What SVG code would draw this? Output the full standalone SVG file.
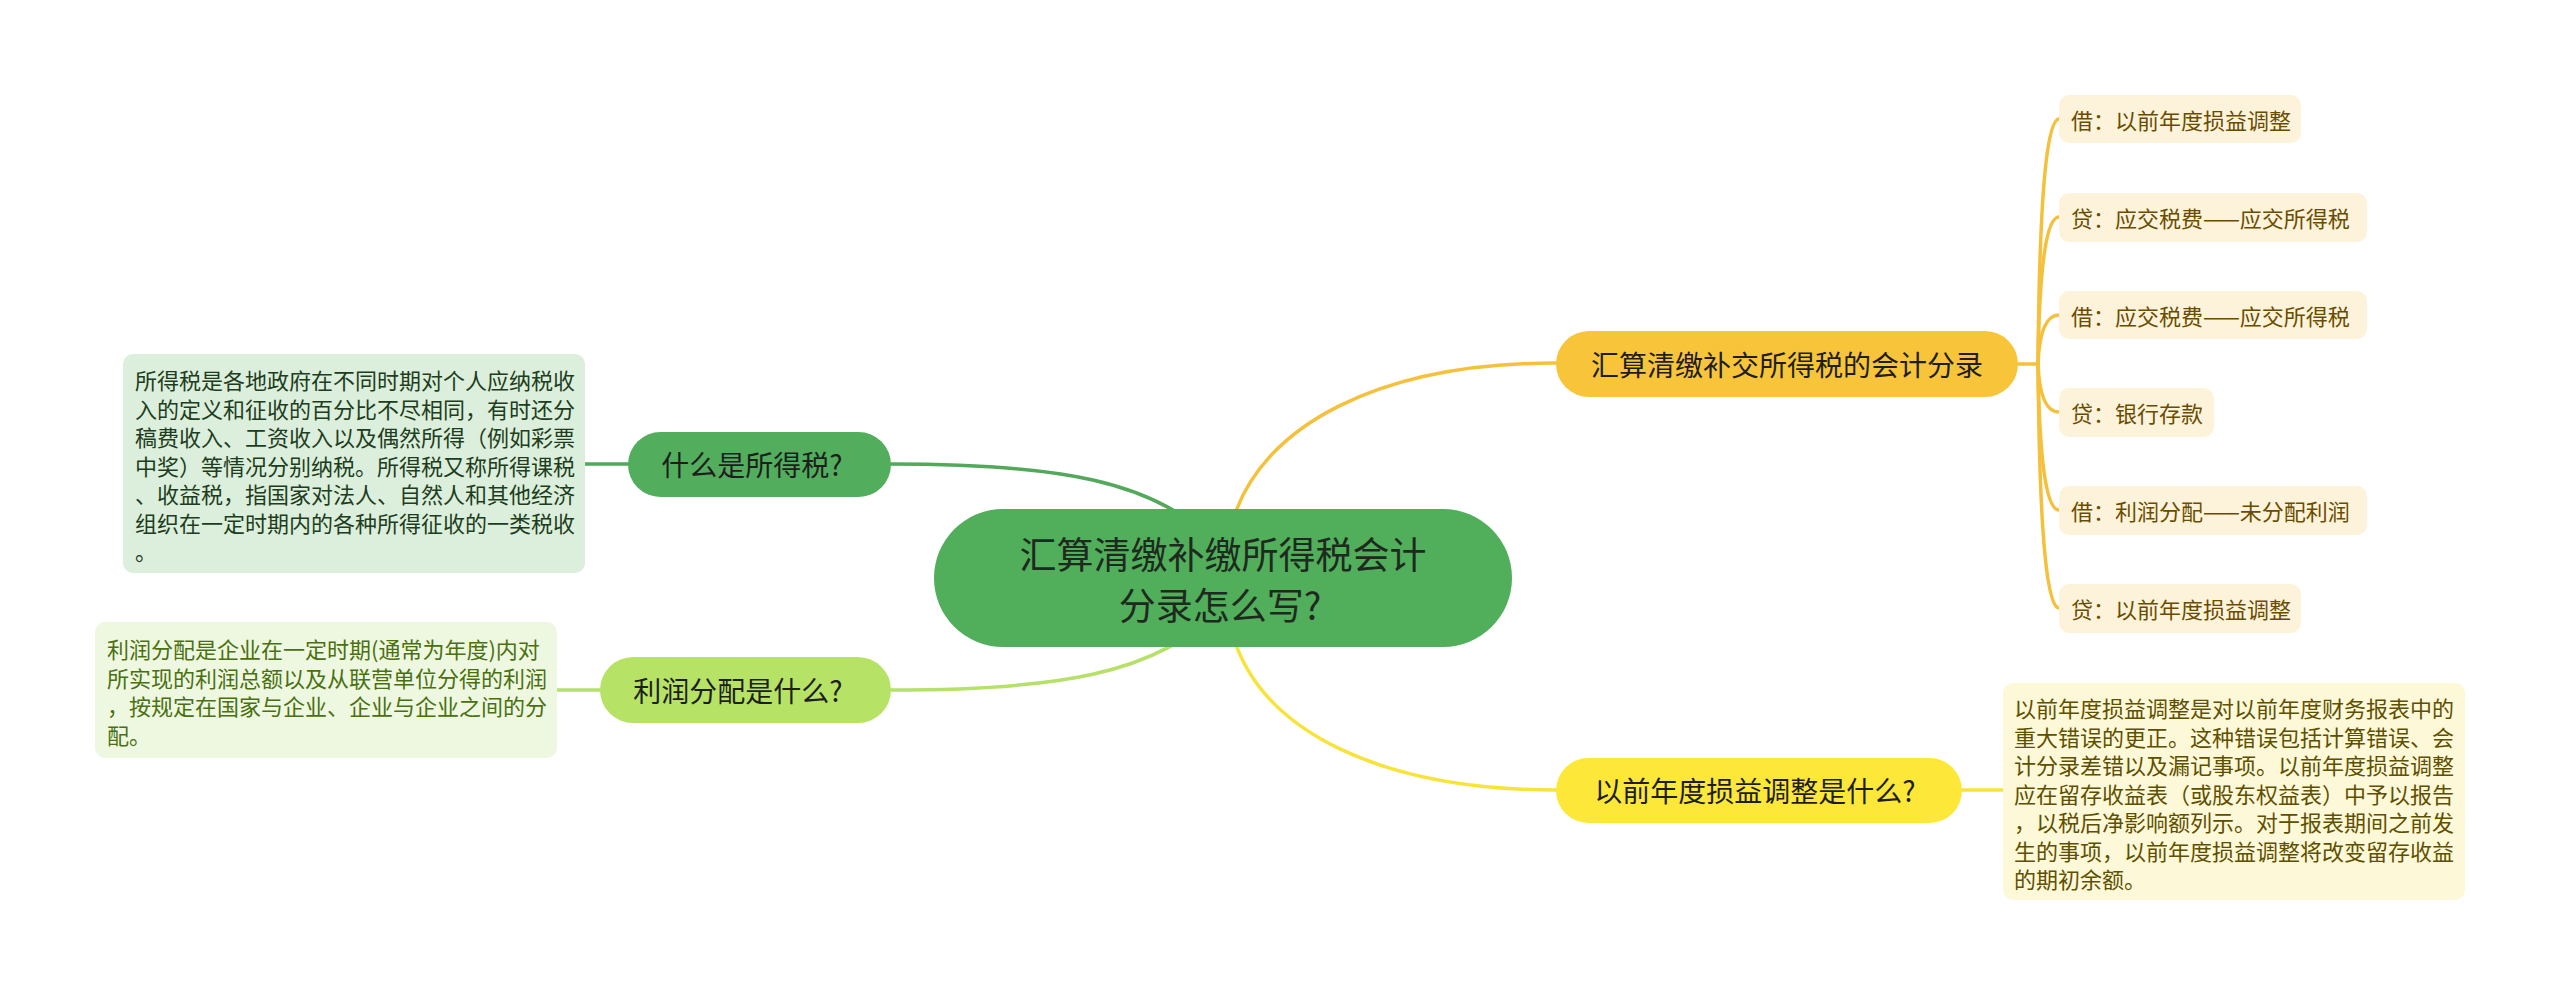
<svg xmlns="http://www.w3.org/2000/svg" width="2560" height="996" viewBox="0 0 2560 996">
<style>
text{font-family:"Noto Sans CJK SC","Noto Sans",sans-serif;dominant-baseline:central}
.c{fill:none;stroke-width:3.5;stroke-linecap:round}
.pill{font-size:28px;fill:#1e1e1e;text-anchor:middle}
.sub{font-size:22px;fill:#6a4c00}
.d1{font-size:22px;fill:#1d3d20}
.d2{font-size:22px;fill:#4a7010}
.d3{font-size:22px;fill:#5e5000}
</style>
<rect width="2560" height="996" fill="#ffffff"/>
<g id="connectors">
<path class="c" stroke="#f5c13c" d="M1233,520 C1262,425 1380,363 1556,363"/>
<path class="c" stroke="#f8e33a" d="M1233,636 C1262,731 1380,790 1556,790"/>
<path class="c" stroke="#52a85b" d="M891,464 C1050,464 1160,478 1222,550"/>
<path class="c" stroke="#b6e168" d="M891,690 C1050,690 1160,676 1222,606"/>
<path class="c" stroke="#52a85b" d="M585,464 L630,464"/>
<path class="c" stroke="#b6e168" d="M557,690 L600,690"/>
<path class="c" stroke="#f8e33a" d="M1962,790 L2003,790"/>
<g stroke="#f5c13c" class="c">
<path class="c" d="M2018,364 L2038,364"/>
<path class="c" d="M2038,364 Q2040,119 2059,119"/>
<path class="c" d="M2038,364 Q2040,217 2059,217"/>
<path class="c" d="M2038,364 Q2040,315 2059,315"/>
<path class="c" d="M2038,364 Q2040,412 2059,412"/>
<path class="c" d="M2038,364 Q2040,510 2059,510"/>
<path class="c" d="M2038,364 Q2040,608 2059,608"/>
</g>
</g>
<g id="center">
<rect x="934" y="509" width="578" height="138" rx="69" fill="#51ae5b"/>
<text x="1223" y="553" font-size="37" fill="#1e2a1e" text-anchor="middle">汇算清缴补缴所得税会计</text>
<text x="1220" y="604" font-size="37" fill="#1e2a1e" text-anchor="middle">分录怎么写?</text>
</g>
<g id="n-entries">
<rect x="1556" y="331" width="462" height="66" rx="33" fill="#f8c53a"/>
<text class="pill" x="1787" y="364">汇算清缴补交所得税的会计分录</text>
</g>
<g id="n-adjust">
<rect x="1556" y="758" width="406" height="65" rx="32.5" fill="#fde83a"/>
<text class="pill" x="1755" y="790">以前年度损益调整是什么?</text>
</g>
<g id="n-tax">
<rect x="628" y="432" width="263" height="65" rx="32.5" fill="#52ae5c"/>
<text class="pill" x="752" y="464">什么是所得税?</text>
</g>
<g id="n-profit">
<rect x="600" y="657" width="291" height="66" rx="33" fill="#b6e366"/>
<text class="pill" x="738" y="690">利润分配是什么?</text>
</g>
<g id="d-tax">
<rect x="123" y="354" width="462" height="219" rx="10" fill="#dcefdc"/>
<text class="d1" x="135" y="379">所得税是各地政府在不同时期对个人应纳税收</text>
<text class="d1" x="135" y="407.5">入的定义和征收的百分比不尽相同，有时还分</text>
<text class="d1" x="135" y="436">稿费收入、工资收入以及偶然所得（例如彩票</text>
<text class="d1" x="135" y="464.5">中奖）等情况分别纳税。所得税又称所得课税</text>
<text class="d1" x="135" y="493">、收益税，指国家对法人、自然人和其他经济</text>
<text class="d1" x="135" y="521.5">组织在一定时期内的各种所得征收的一类税收</text>
<text class="d1" x="135" y="550">。</text>
</g>
<g id="d-profit">
<rect x="95" y="622" width="462" height="136" rx="10" fill="#eef8e1"/>
<text class="d2" x="107" y="648">利润分配是企业在一定时期(通常为年度)内对</text>
<text class="d2" x="107" y="676.5">所实现的利润总额以及从联营单位分得的利润</text>
<text class="d2" x="107" y="705">，按规定在国家与企业、企业与企业之间的分</text>
<text class="d2" x="107" y="733.5">配。</text>
</g>
<g id="d-adjust">
<rect x="2003" y="683" width="462" height="217" rx="10" fill="#fdf8d8"/>
<text class="d3" x="2014" y="707">以前年度损益调整是对以前年度财务报表中的</text>
<text class="d3" x="2014" y="735.5">重大错误的更正。这种错误包括计算错误、会</text>
<text class="d3" x="2014" y="764">计分录差错以及漏记事项。以前年度损益调整</text>
<text class="d3" x="2014" y="792.5">应在留存收益表（或股东权益表）中予以报告</text>
<text class="d3" x="2014" y="821">，以税后净影响额列示。对于报表期间之前发</text>
<text class="d3" x="2014" y="849.5">生的事项，以前年度损益调整将改变留存收益</text>
<text class="d3" x="2014" y="878">的期初余额。</text>
</g>
<g id="s1"><rect x="2059" y="95" width="242" height="48" rx="10" fill="#fdf3da"/><text class="sub" x="2071" y="119">借：以前年度损益调整</text></g>
<g id="s2"><rect x="2059" y="193" width="308" height="49" rx="10" fill="#fdf3da"/><text class="sub" x="2071" y="217">贷：应交税费——应交所得税</text></g>
<g id="s3"><rect x="2059" y="291" width="308" height="48" rx="10" fill="#fdf3da"/><text class="sub" x="2071" y="315">借：应交税费——应交所得税</text></g>
<g id="s4"><rect x="2059" y="388" width="155" height="49" rx="10" fill="#fdf3da"/><text class="sub" x="2071" y="412">贷：银行存款</text></g>
<g id="s5"><rect x="2059" y="486" width="308" height="49" rx="10" fill="#fdf3da"/><text class="sub" x="2071" y="510">借：利润分配——未分配利润</text></g>
<g id="s6"><rect x="2059" y="584" width="242" height="49" rx="10" fill="#fdf3da"/><text class="sub" x="2071" y="608">贷：以前年度损益调整</text></g>
</svg>
